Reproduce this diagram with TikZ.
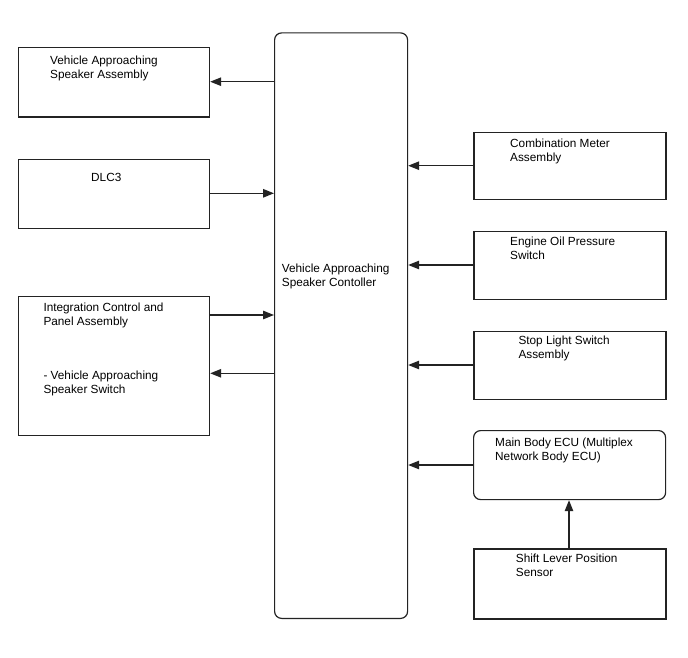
\documentclass[tikz,border=0pt]{standalone}
\usepackage{fontspec}
\setmainfont{Liberation Sans}
\usetikzlibrary{arrows.meta}
\definecolor{linec}{RGB}{35,35,35}
\begin{document}
\begin{tikzpicture}[x=1pt,y=-1pt,
  box/.style={draw=linec,line width=1.2pt,inner sep=0pt,anchor=north west},
  rbox/.style={box,rounded corners=7pt},
  lbl/.style={inner sep=0pt,anchor=north west,align=left,font=\fontsize{11.8}{14}\selectfont},
  conn/.style={draw=linec,line width=1.2pt,-{Triangle[length=11pt,width=8.5pt]}}]
\fill[white] (0,0) rectangle (688,658);
\useasboundingbox (0,0) rectangle (688,658);
% left boxes
\node[box,minimum width=191.5pt,minimum height=69.5pt] (spk) at (17.5,47) {};
\node[box,minimum width=191.5pt,minimum height=68.5pt] (dlc) at (17.5,159) {};
\node[box,minimum width=191.5pt,minimum height=139pt] (icp) at (17.5,296) {};
% center
\node[rbox,minimum width=133pt,minimum height=585.5pt] (ctl) at (274,32.3) {};
% right boxes
\node[box,minimum width=192pt,minimum height=67.5pt] (cmb) at (473.3,131.7) {};
\node[box,minimum width=192pt,minimum height=68pt] (eop) at (473.3,231) {};
\node[box,minimum width=192pt,minimum height=68pt] (sls) at (473.3,331) {};
\node[rbox,minimum width=192pt,minimum height=69pt] (ecu) at (473,430) {};
\node[box,minimum width=192pt,minimum height=70pt] (slp) at (473.3,548.3) {};
% labels
\node[lbl] (tspk) at (50,55.7) {Vehicle Approaching\\Speaker Assembly};
\node[lbl] (tdlc) at (91,173) {DLC3};
\node[lbl] (ticp) at (43.3,302.4) {Integration Control and\\Panel Assembly\\[40pt]- Vehicle Approaching\\Speaker Switch};
\node[lbl] (tctl) at (281.7,264) {Vehicle Approaching\\Speaker Contoller};
\node[lbl] (tcmb) at (510,139) {Combination Meter\\Assembly};
\node[lbl] (teop) at (510,237) {Engine Oil Pressure\\Switch};
\node[lbl] (tsls) at (518.3,335.7) {Stop Light Switch\\Assembly};
\node[lbl] (tecu) at (495,438) {Main Body ECU (Multiplex\\Network Body ECU)};
\node[lbl] (tslp) at (515.7,554) {Shift Lever Position\\Sensor};
% connectors
\draw[conn] (ctl.west |- 0,81.7) -- (spk.east |- 0,81.7);
\draw[conn] (dlc.east |- 0,193.3) -- (ctl.west |- 0,193.3);
\draw[conn] (icp.east |- 0,315) -- (ctl.west |- 0,315);
\draw[conn] (ctl.west |- 0,373.3) -- (icp.east |- 0,373.3);
\draw[conn] (cmb.west |- 0,165.7) -- (ctl.east |- 0,165.7);
\draw[conn] (eop.west |- 0,265) -- (ctl.east |- 0,265);
\draw[conn] (sls.west |- 0,365) -- (ctl.east |- 0,365);
\draw[conn] (ecu.west |- 0,465) -- (ctl.east |- 0,465);
\draw[conn] (slp.north -| 569,0) -- (ecu.south -| 569,0);
\end{tikzpicture}
\end{document}
